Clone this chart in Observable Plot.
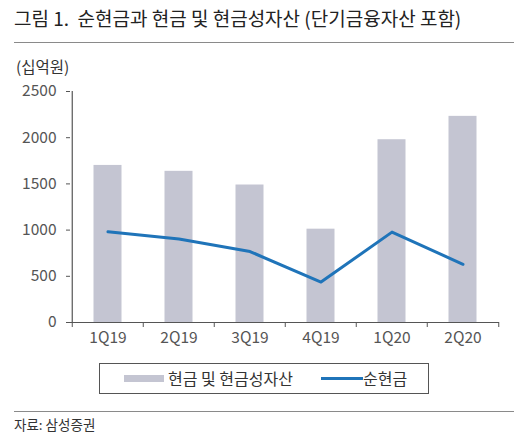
<!DOCTYPE html>
<html><head><meta charset="utf-8">
<script src="https://cdn.jsdelivr.net/npm/d3@7"></script>
<script src="https://cdn.jsdelivr.net/npm/@observablehq/plot@0.6"></script>
<style>
body{margin:0;background:#fff;font-family:"Noto Sans CJK KR","Noto Sans",sans-serif;color:#333;}
#wrap{position:relative;width:530px;height:444px;overflow:hidden;}
#title{position:absolute;left:14px;top:4px;font-size:19px;font-weight:400;color:#222;white-space:nowrap;}
.rule{position:absolute;left:14px;width:500px;height:0;border-top:1.5px solid #8a8a8a;}
#unit{position:absolute;left:16px;top:55px;font-size:15.5px;color:#333;}
#chart{position:absolute;left:0;top:50px;}
#legend{position:absolute;left:99px;top:363px;width:330px;height:31px;border:1px solid #555;box-sizing:border-box;font-size:16px;color:#333;white-space:nowrap;}
#legend span{position:absolute;}
#source{position:absolute;left:14px;top:414px;font-size:13.5px;color:#333;}
</style></head>
<body><div id="wrap">
<div id="title">그림 1.&nbsp; 순현금과 현금 및 현금성자산 (단기금융자산 포함)</div>
<div class="rule" style="top:42px"></div>
<div id="unit">(십억원)</div>
<div id="chart"></div>
<div id="legend">
  <span style="left:24px;top:11px;width:40px;height:7px;background:#c4c5d2"></span>
  <span style="left:68px;top:2px;">현금 및 현금성자산</span>
  <span style="left:221px;top:13px;width:42px;height:3px;background:#1f74b9"></span>
  <span style="left:263px;top:2px;">순현금</span>
</div>
<div class="rule" style="top:411px"></div>
<div id="source">자료: 삼성증권</div>
</div>
<script>
const quarters = ["1Q19","2Q19","3Q19","4Q19","1Q20","2Q20"];
const cashAndEquivalents = [1700, 1636, 1488, 1010, 1978, 2231];
const netCash = [982, 903, 768, 438, 978, 630];
const yTicks = [0, 500, 1000, 1500, 2000, 2500];

const rows = quarters.map((q, i) => ({q, cash: cashAndEquivalents[i], net: netCash[i]}));

const W = 530, H = 300, mL = 70, mR = 31;
const step = (W - mL - mR) / quarters.length;

const plot = Plot.plot({
  width: W, height: H,
  marginLeft: mL, marginRight: mR, marginTop: 41, marginBottom: 28,
  style: {fontFamily: '"Noto Sans CJK KR","Noto Sans",sans-serif', fontSize: "15px", color: "#555", background: "transparent"},
  x: {domain: quarters, padding: 0},
  y: {domain: [0, 2500]},
  marks: [
    Plot.barY(rows, {x: "q", y: "cash", fill: "#c4c5d2", insetLeft: 21.5, insetRight: 21.5}),
    Plot.ruleY([0], {stroke: "#555", strokeWidth: 1.2, insetLeft: -4}),
    Plot.ruleX([quarters[0]], {dx: -step/2, y1: 0, y2: 2500, stroke: "#555", strokeWidth: 1.2}),
    Plot.axisY({ticks: yTicks, tickFormat: d3.format("d"), tickSize: 4, tickPadding: 10, stroke: "#555", fill: "#555", fontSize: 15.5, label: null}),
    Plot.axisX({tickSize: 0, tickPadding: 9, fill: "#555", fontSize: 15.5, label: null}),
    Plot.axisX({tickSize: 5, fill: "none", stroke: "#555", dx: -step/2, label: null}),
    Plot.axisX({ticks: [quarters[quarters.length-1]], tickSize: 5, fill: "none", stroke: "#555", dx: step/2, label: null}),
    Plot.line(rows, {x: "q", y: "net", stroke: "#1f74b9", strokeWidth: 3})
  ]
});
document.getElementById("chart").appendChild(plot);
</script>
</body></html>
